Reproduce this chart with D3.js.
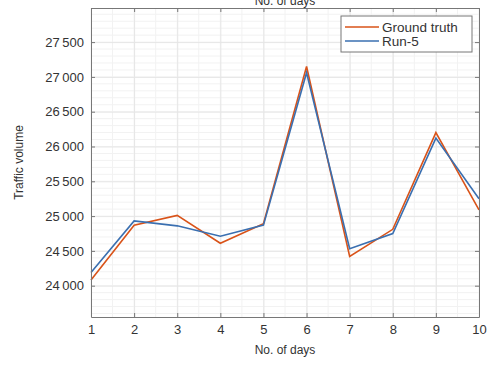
<!DOCTYPE html>
<html>
<head>
<meta charset="utf-8">
<script src="https://cdn.jsdelivr.net/npm/d3@7"></script>
<style>
  body { margin: 0; background: #fff; }
  text { font-family: "Liberation Sans", Arial, sans-serif; }
  .grid line { stroke: #e6e6e6; stroke-width: 1; }
  .minor line { stroke: #f2f2f2; stroke-width: 1; }
  .axis path, .axis line { stroke: #777; }
  .axis text { fill: #333; font-size: 13px; }
</style>
</head>
<body>
<div id="plot"></div>
<script>
// chart values
var days = [1, 2, 3, 4, 5, 6, 7, 8, 9, 10];
var groundTruth = [24080, 24870, 25010, 24610, 24890, 27150, 24420, 24810, 26200, 25090];
var run5 = [24190, 24930, 24860, 24710, 24870, 27060, 24530, 24750, 26120, 25250];
var yTicks = [24000, 24500, 25000, 25500, 26000, 26500, 27000, 27500];
var seriesNames = ["Ground truth", "Run-5"];

function zip_data(xData, yData) {
    var data = [];
    for (var i = 0; i < xData.length; i++) {
        data.push({x: xData[i], y: yData[i]});
    }
    return data;
}

var width = 488,
    height = 365,
    margin = {left: 91, top: 8, right: 9, bottom: 48},
    g_width = width - margin.left - margin.right,
    g_height = height - margin.top - margin.bottom;

var svg = d3.select("#plot")
    .append("svg")
    .attr("width", width)
    .attr("height", height);

var xScale = d3.scaleLinear()
    .domain([1, 10])
    .range([margin.left, margin.left + g_width]);

var yScale = d3.scaleLinear()
    .domain([23550, 27990])
    .range([margin.top + g_height, margin.top]);

// minor grid
var minorX = d3.range(1, 10.01, 0.5);
var minorY = d3.range(23600, 28000, 100);
svg.append("g").attr("class", "minor")
    .selectAll("line").data(minorY).enter().append("line")
    .attr("x1", margin.left).attr("x2", margin.left + g_width)
    .attr("y1", function(d){ return yScale(d); })
    .attr("y2", function(d){ return yScale(d); });
svg.append("g").attr("class", "minor")
    .selectAll("line").data(minorX).enter().append("line")
    .attr("y1", margin.top).attr("y2", margin.top + g_height)
    .attr("x1", function(d){ return xScale(d); })
    .attr("x2", function(d){ return xScale(d); });

// major grid
svg.append("g").attr("class", "grid")
    .attr("transform", `translate(0,${margin.top + g_height})`)
    .call(d3.axisBottom(xScale).tickValues(days).tickSize(-g_height).tickFormat(""))
    .call(function(g){ g.select(".domain").remove(); });
svg.append("g").attr("class", "grid")
    .attr("transform", `translate(${margin.left},0)`)
    .call(d3.axisLeft(yScale).tickValues(yTicks).tickSize(-g_width).tickFormat(""))
    .call(function(g){ g.select(".domain").remove(); });

// lines
var line_generator = d3.line()
    .x(function(d){ return xScale(d.x); })
    .y(function(d){ return yScale(d.y); });

svg.append("path")
    .attr("d", line_generator(zip_data(days, groundTruth)))
    .attr("fill", "none")
    .attr("stroke", "#D95319")
    .attr("stroke-width", 1.6);

svg.append("path")
    .attr("d", line_generator(zip_data(days, run5)))
    .attr("fill", "none")
    .attr("stroke", "#3a6fb0")
    .attr("stroke-width", 1.6);

// axes (ticks pointing inward, box)
var fmt = function(d){ return d3.format(",")(d).replace(",", "\u2009"); };
svg.append("g").attr("class", "axis")
    .attr("transform", `translate(0,${margin.top + g_height})`)
    .call(d3.axisBottom(xScale).tickValues(days).tickSizeInner(-4).tickSizeOuter(0).tickPadding(8));
svg.append("g").attr("class", "axis")
    .attr("transform", `translate(0,${margin.top})`)
    .call(d3.axisTop(xScale).tickValues(days).tickSizeInner(-4).tickSizeOuter(0).tickFormat(""));
svg.append("g").attr("class", "axis")
    .attr("transform", `translate(${margin.left},0)`)
    .call(d3.axisLeft(yScale).tickValues(yTicks).tickSizeInner(-4).tickSizeOuter(0).tickPadding(7).tickFormat(fmt));
svg.append("g").attr("class", "axis")
    .attr("transform", `translate(${margin.left + g_width},0)`)
    .call(d3.axisRight(yScale).tickValues(yTicks).tickSizeInner(-4).tickSizeOuter(0).tickFormat(""));

// labels
svg.append("text")
    .attr("x", margin.left + g_width / 2)
    .attr("y", 5)
    .attr("text-anchor", "middle")
    .attr("font-size", 12)
    .attr("fill", "#333")
    .text("No. of days");

svg.append("text")
    .attr("x", margin.left + g_width / 2)
    .attr("y", 354)
    .attr("text-anchor", "middle")
    .attr("font-size", 12)
    .attr("fill", "#333")
    .text("No. of days");

svg.append("text")
    .attr("transform", `translate(23,${margin.top + g_height / 2}) rotate(-90)`)
    .attr("text-anchor", "middle")
    .attr("font-size", 12)
    .attr("fill", "#333")
    .text("Traffic volume");

// legend
var legend = svg.append("g").attr("transform", "translate(341,16)");
legend.append("rect")
    .attr("width", 131).attr("height", 36)
    .attr("fill", "#fff").attr("stroke", "#777");
var colors = ["#D95319", "#3a6fb0"];
seriesNames.forEach(function(name, i) {
    var y = 11 + i * 14;
    legend.append("line")
        .attr("x1", 4).attr("x2", 38).attr("y1", y).attr("y2", y)
        .attr("stroke", colors[i]).attr("stroke-width", 1.6);
    legend.append("text")
        .attr("x", 41).attr("y", y + 4.5)
        .attr("font-size", 13.5).attr("fill", "#333")
        .text(name);
});
</script>
</body>
</html>
